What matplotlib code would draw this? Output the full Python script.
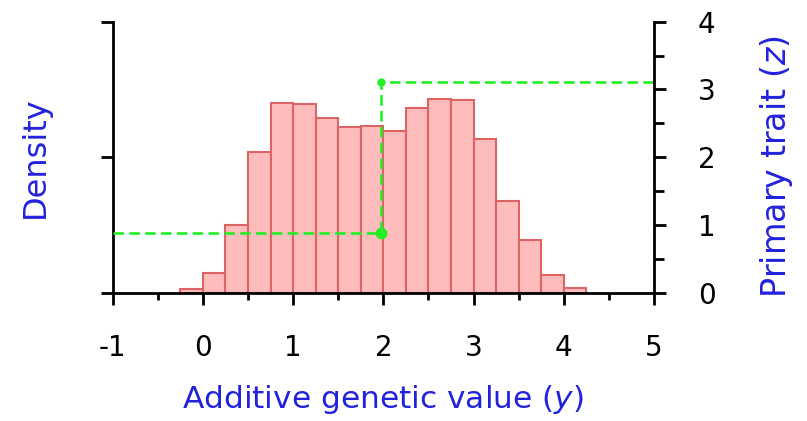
import matplotlib
matplotlib.use('Agg')
import matplotlib.pyplot as plt
from matplotlib.ticker import MultipleLocator, FixedLocator, NullFormatter

# ---- data ----
bin_left = [-0.25, 0.0, 0.25, 0.5, 0.75, 1.0, 1.25, 1.5, 1.75,
            2.0, 2.25, 2.5, 2.75, 3.0, 3.25, 3.5, 3.75, 4.0]
density = [0.006, 0.036, 0.125, 0.259, 0.350, 0.348, 0.323, 0.306, 0.308,
           0.298, 0.341, 0.358, 0.355, 0.283, 0.169, 0.098, 0.033, 0.008]
bin_width = 0.25

trait_x = [-1.0, 1.97, 1.97, 5.0]
trait_z = [0.886, 0.886, 3.11, 3.11]
threshold_x = 1.97
z_low = 0.886
z_high = 3.11

x_ticks = [-1, 0, 1, 2, 3, 4, 5]
z_ticks = [0, 1, 2, 3, 4]
density_ticks = [0, 0.25, 0.5]

BLUE = '#2222dd'
GREEN = '#22ee22'
FILL = '#ffbcbc'
EDGE = '#dc6464'

plt.rcParams['font.family'] = ['DejaVu Sans']

fig = plt.figure(figsize=(8.07, 4.21), dpi=100)
ax = fig.add_axes([0.1397, 0.3048, 0.6707, 0.6437])
ax2 = ax.twinx()

ax.bar(bin_left, density, width=bin_width, align='edge',
       color=FILL, edgecolor=EDGE, linewidth=1.5, zorder=2)

ax.set_xlim(-1, 5)
ax.set_ylim(0, 0.5)
ax2.set_ylim(0, 4)

ax2.plot(trait_x, trait_z, color=GREEN, linestyle=(0, (4, 2)), linewidth=1.9)
ax2.plot([threshold_x], [z_low], 'o', color=GREEN, markersize=8.5, markeredgewidth=0)
ax2.plot([threshold_x], [z_high], 'o', color=GREEN, markersize=6, markeredgewidth=0)

for a in (ax, ax2):
    a.spines['top'].set_visible(False)
    for s in ('left', 'right', 'bottom'):
        a.spines[s].set_linewidth(2.0)
ax.spines['right'].set_visible(False)
ax2.spines['left'].set_visible(False)
ax2.spines['bottom'].set_visible(False)

ax.xaxis.set_major_locator(FixedLocator(x_ticks))
ax.xaxis.set_minor_locator(MultipleLocator(0.5))
ax.set_xticklabels([str(t) for t in x_ticks])
ax.tick_params(axis='x', which='major', direction='out', length=8.6, width=2.0,
               labelsize=20, pad=21)
ax.tick_params(axis='x', which='minor', direction='out', length=5, width=2.0)

ax.yaxis.set_major_locator(FixedLocator(density_ticks))
ax.yaxis.set_major_formatter(NullFormatter())
ax.tick_params(axis='y', which='major', direction='out', length=8.6, width=2.0)

ax2.yaxis.set_major_locator(FixedLocator(z_ticks))
ax2.yaxis.set_minor_locator(MultipleLocator(0.5))
ax2.set_yticklabels([str(t) for t in z_ticks])
ax2.tick_params(axis='y', which='major', direction='out', length=8.6, width=2.0,
                labelsize=20, pad=23)
ax2.tick_params(axis='y', which='minor', direction='out', length=7, width=2.0)

ax.set_xlabel('Additive genetic value ($y$)', color=BLUE, fontsize=22.5)
ax.xaxis.set_label_coords(0.5, -0.334)

ax.set_ylabel('Density', color=BLUE, fontsize=23, va='center')
ax.yaxis.set_label_coords(-0.1426, 0.5)

ax2.set_ylabel('Primary trait ($z$)', color=BLUE, fontsize=24, va='center')
ax2.yaxis.set_label_coords(1.2272, 0.4675)

fig.savefig('out.png', dpi=100)
